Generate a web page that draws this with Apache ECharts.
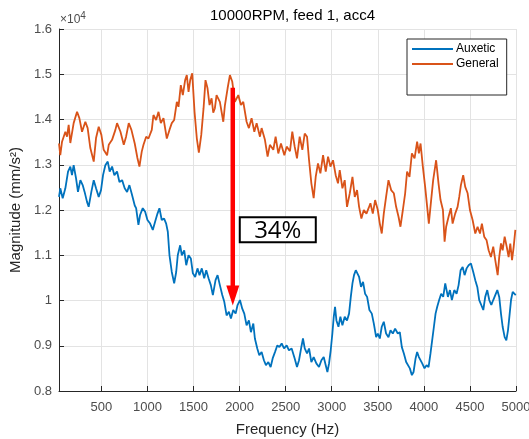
<!DOCTYPE html>
<html>
<head>
<meta charset="utf-8">
<title>10000RPM, feed 1, acc4</title>
<script src="https://cdn.jsdelivr.net/npm/echarts@6/dist/echarts.min.js"></script>
<style>
  html, body { margin: 0; padding: 0; background: #fff; }
  #chart { width: 529px; height: 439px; }
</style>
</head>
<body>
<div id="chart"></div>
<script>
// values are in units of 10^4 mm/s^2
const auxFreq = [40, 54, 80, 109, 138, 163, 181, 199, 225, 246, 272, 297, 318, 344, 362, 391, 417, 442, 471, 496,
  518, 543, 569, 590, 616, 641, 670, 696, 725, 753, 779, 804, 833, 862, 877, 902, 920, 949, 975, 1000,
  1029, 1058, 1083, 1109, 1130, 1155, 1181, 1203, 1221, 1239, 1264, 1290, 1312, 1329, 1355, 1373, 1399, 1421, 1446, 1471,
  1493, 1518, 1543, 1565, 1590, 1616, 1638, 1663, 1688, 1710, 1739, 1761, 1786, 1812, 1834, 1859, 1884, 1906, 1931, 1957,
  1978, 2004, 2029, 2051, 2076, 2101, 2123, 2149, 2166, 2192, 2214, 2239, 2264, 2286, 2312, 2337, 2359, 2384, 2410, 2432,
  2457, 2482, 2511, 2536, 2565, 2598, 2623, 2645, 2670, 2688, 2707, 2732, 2754, 2779, 2804, 2833, 2862, 2888, 2913, 2935,
  2953, 2971, 2989, 3007, 3022, 3036, 3051, 3073, 3094, 3116, 3141, 3166, 3188, 3207, 3225, 3242, 3261, 3279, 3297, 3318,
  3340, 3362, 3384, 3409, 3435, 3457, 3482, 3500, 3522, 3543, 3565, 3590, 3616, 3638, 3663, 3688, 3717, 3739, 3761, 3783,
  3808, 3826, 3848, 3870, 3888, 3910, 3927, 3946, 3964, 3982, 4007, 4029, 4051, 4072, 4090, 4109, 4127, 4145, 4166, 4188,
  4210, 4232, 4261, 4283, 4304, 4330, 4355, 4377, 4399, 4421, 4442, 4464, 4486, 4511, 4536, 4558, 4580, 4601, 4623, 4645,
  4666, 4688, 4710, 4732, 4753, 4775, 4797, 4818, 4837, 4855, 4877, 4895, 4913, 4928, 4946, 4964, 4982, 4997];
const auxMag = [1.229, 1.248, 1.226, 1.248, 1.285, 1.296, 1.277, 1.299, 1.270, 1.240, 1.266, 1.255, 1.240, 1.218, 1.207, 1.240, 1.266, 1.248, 1.229, 1.244,
  1.277, 1.299, 1.307, 1.285, 1.296, 1.277, 1.285, 1.262, 1.266, 1.248, 1.240, 1.255, 1.233, 1.210, 1.204, 1.167, 1.189, 1.204, 1.196, 1.178,
  1.170, 1.156, 1.174, 1.192, 1.204, 1.178, 1.181, 1.170, 1.152, 1.100, 1.063, 1.038, 1.063, 1.100, 1.122, 1.100, 1.111, 1.078, 1.100, 1.093,
  1.060, 1.052, 1.071, 1.056, 1.071, 1.049, 1.067, 1.049, 1.034, 1.012, 1.045, 1.056, 1.034, 1.012, 0.997, 0.967, 0.975, 0.960, 0.979, 0.971,
  0.990, 1.001, 0.982, 0.971, 0.945, 0.956, 0.930, 0.949, 0.916, 0.894, 0.879, 0.886, 0.868, 0.857, 0.864, 0.853, 0.872, 0.886, 0.901, 0.897,
  0.905, 0.894, 0.901, 0.890, 0.894, 0.872, 0.853, 0.868, 0.897, 0.916, 0.894, 0.883, 0.894, 0.864, 0.875, 0.861, 0.853, 0.868, 0.875, 0.857,
  0.842, 0.861, 0.890, 0.927, 0.964, 0.986, 0.956, 0.942, 0.964, 0.945, 0.964, 0.956, 0.971, 1.008, 1.038, 1.056, 1.067, 1.071, 1.052, 1.030,
  1.041, 1.015, 1.008, 0.979, 0.971, 0.949, 0.919, 0.927, 0.916, 0.942, 0.953, 0.927, 0.919, 0.934, 0.927, 0.938, 0.927, 0.930, 0.897, 0.883,
  0.864, 0.868, 0.850, 0.835, 0.842, 0.872, 0.886, 0.875, 0.879, 0.861, 0.850, 0.857, 0.853, 0.883, 0.912, 0.942, 0.971, 0.986, 1.001, 1.015,
  1.008, 1.038, 1.008, 1.023, 1.001, 1.023, 1.015, 1.034, 1.067, 1.074, 1.056, 1.071, 1.078, 1.082, 1.063, 1.045, 1.030, 1.001, 0.990, 0.979,
  1.008, 1.023, 1.001, 0.990, 1.001, 1.012, 1.023, 1.008, 0.971, 0.942, 0.919, 0.912, 0.934, 0.964, 1.001, 1.019, 1.023, 1.012];

const genFreq = [40, 54, 73, 109, 127, 145, 163, 199, 236, 261, 290, 326, 351, 380, 417, 442, 471, 500, 525, 562,
  580, 616, 652, 670, 707, 743, 768, 797, 826, 862, 891, 913, 938, 957, 986, 1011, 1047, 1065, 1094, 1120,
  1145, 1174, 1210, 1239, 1264, 1290, 1319, 1337, 1362, 1384, 1409, 1427, 1446, 1464, 1486, 1511, 1536, 1558, 1584, 1609,
  1630, 1652, 1674, 1696, 1714, 1732, 1750, 1786, 1823, 1841, 1870, 1895, 1920, 1949, 1986, 2014, 2040, 2076, 2101, 2130,
  2160, 2185, 2221, 2239, 2275, 2304, 2329, 2366, 2391, 2420, 2449, 2486, 2511, 2547, 2572, 2598, 2623, 2652, 2681, 2707,
  2732, 2754, 2779, 2804, 2826, 2851, 2877, 2906, 2935, 2960, 2986, 3014, 3043, 3068, 3087, 3116, 3141, 3166, 3196, 3225,
  3250, 3275, 3297, 3322, 3348, 3377, 3400, 3420, 3446, 3471, 3500, 3522, 3543, 3565, 3590, 3616, 3645, 3674, 3699, 3725,
  3746, 3772, 3797, 3818, 3844, 3870, 3899, 3927, 3946, 3964, 3989, 4014, 4036, 4054, 4079, 4101, 4133, 4159, 4181, 4207,
  4225, 4242, 4268, 4293, 4312, 4340, 4366, 4384, 4402, 4427, 4449, 4475, 4500, 4529, 4558, 4583, 4609, 4630, 4655, 4681,
  4703, 4728, 4753, 4775, 4801, 4818, 4837, 4855, 4877, 4899, 4920, 4938, 4957, 4975, 4993];
const genMag = [1.347, 1.321, 1.351, 1.373, 1.362, 1.388, 1.348, 1.392, 1.417, 1.403, 1.373, 1.395, 1.381, 1.337, 1.307, 1.359, 1.384, 1.366, 1.333, 1.321,
  1.344, 1.355, 1.377, 1.392, 1.373, 1.344, 1.362, 1.392, 1.377, 1.347, 1.315, 1.296, 1.329, 1.344, 1.362, 1.358, 1.377, 1.410, 1.399, 1.417,
  1.392, 1.403, 1.358, 1.377, 1.392, 1.399, 1.439, 1.428, 1.476, 1.454, 1.487, 1.498, 1.461, 1.487, 1.502, 1.417, 1.358, 1.327, 1.366, 1.425,
  1.487, 1.469, 1.432, 1.447, 1.415, 1.425, 1.454, 1.439, 1.395, 1.432, 1.469, 1.498, 1.484, 1.439, 1.454, 1.432, 1.439, 1.395, 1.381, 1.403,
  1.373, 1.392, 1.362, 1.381, 1.355, 1.318, 1.344, 1.333, 1.362, 1.325, 1.347, 1.321, 1.340, 1.330, 1.373, 1.340, 1.314, 1.362, 1.333, 1.369,
  1.362, 1.310, 1.259, 1.226, 1.273, 1.303, 1.281, 1.321, 1.285, 1.318, 1.296, 1.310, 1.277, 1.259, 1.288, 1.248, 1.266, 1.207, 1.237, 1.273,
  1.229, 1.244, 1.207, 1.181, 1.200, 1.192, 1.204, 1.215, 1.192, 1.222, 1.200, 1.170, 1.148, 1.192, 1.229, 1.266, 1.244, 1.237, 1.207, 1.185,
  1.163, 1.200, 1.237, 1.285, 1.273, 1.325, 1.314, 1.351, 1.325, 1.347, 1.296, 1.251, 1.207, 1.170, 1.222, 1.266, 1.310, 1.259, 1.222, 1.200,
  1.130, 1.163, 1.185, 1.204, 1.170, 1.192, 1.207, 1.229, 1.255, 1.277, 1.251, 1.237, 1.200, 1.178, 1.148, 1.163, 1.148, 1.170, 1.141, 1.133,
  1.111, 1.096, 1.119, 1.089, 1.056, 1.096, 1.126, 1.111, 1.141, 1.119, 1.096, 1.126, 1.089, 1.119, 1.156];

const xTicks = [500, 1000, 1500, 2000, 2500, 3000, 3500, 4000, 4500, 5000];

// annotation: arrow from General peak down to Auxetic, and the label box
const arrowFreq = 1926;
const arrowTop = 1.470;
const arrowTip = 0.989;
const boxCorner = [2002, 1.184, 2827, 1.129];
const boxText = '34%';

const font = '"Liberation Sans", Arial, sans-serif';
const axisColor = '#262626';
const tickColor = '#4d4d4d';
const gridColor = '#e3e3e3';

function zip(xs, ys) {
  return xs.map((x, i) => [x, ys[i]]);
}

const chart = echarts.init(document.getElementById('chart'), null, { renderer: 'canvas' });

const option = {
  animation: false,
  textStyle: { fontFamily: font },
  title: {
    text: '10000RPM, feed 1, acc4',
    left: 287.5,
    textAlign: 'center',
    top: 3,
    textStyle: { fontFamily: font, fontSize: 15, fontWeight: 'normal', color: '#000' }
  },
  legend: {
    orient: 'vertical',
    left: 407,
    top: 39,
    padding: [4, 8, 25, 5],
    itemGap: 3,
    itemWidth: 41,
    itemHeight: 2,
    icon: 'rect',
    borderColor: axisColor,
    borderWidth: 1,
    backgroundColor: '#fff',
    borderRadius: 0,
    textStyle: { fontFamily: font, fontSize: 12, color: '#000', padding: [0, 0, 0, -2] },
    data: ['Auxetic', 'General']
  },
  grid: {
    left: 59,
    right: 13,
    top: 29,
    bottom: 48,
    containLabel: false,
    outerBoundsMode: 'none'
  },
  xAxis: {
    type: 'value',
    min: 40,
    max: 5000,
    name: 'Frequency (Hz)',
    nameLocation: 'middle',
    nameGap: 31,
    nameTextStyle: { fontFamily: font, fontSize: 15, color: axisColor },
    axisLine: { show: true, lineStyle: { color: axisColor, width: 1 } },
    axisTick: { show: true, inside: true, length: 5, customValues: xTicks, lineStyle: { color: axisColor } },
    axisLabel: {
      customValues: xTicks,
      margin: 10,
      fontFamily: font,
      fontSize: 13,
      color: tickColor,
      formatter: (v) => String(v)
    },
    splitLine: { show: true, lineStyle: { color: gridColor, width: 1 } }
  },
  yAxis: {
    type: 'value',
    min: 0.8,
    max: 1.6,
    interval: 0.1,
    name: 'Magnitude (mm/s²)',
    nameLocation: 'middle',
    nameGap: 26,
    nameTextStyle: { fontFamily: font, fontSize: 15, color: axisColor },
    axisLine: { show: true, lineStyle: { color: axisColor, width: 1 } },
    axisTick: { show: true, inside: true, length: 5, lineStyle: { color: axisColor } },
    axisLabel: {
      margin: 7,
      fontFamily: font,
      fontSize: 13,
      color: tickColor,
      formatter: (v) => String(Math.round(v * 10) / 10)
    },
    splitLine: { show: true, lineStyle: { color: gridColor, width: 1 } }
  },
  series: [
    {
      name: 'Auxetic',
      type: 'line',
      data: zip(auxFreq, auxMag),
      symbol: 'none',
      lineStyle: { color: '#0072BD', width: 1.8 },
      itemStyle: { color: '#0072BD' }
    },
    {
      name: 'General',
      type: 'line',
      data: zip(genFreq, genMag),
      symbol: 'none',
      lineStyle: { color: '#D95319', width: 1.8 },
      itemStyle: { color: '#D95319' }
    }
  ]
};

chart.setOption(option);

// draw the annotation in pixel space using the axes
const arrowStart = chart.convertToPixel({ gridIndex: 0 }, [arrowFreq, arrowTop]);
const arrowEnd = chart.convertToPixel({ gridIndex: 0 }, [arrowFreq, arrowTip]);
const b1 = chart.convertToPixel({ gridIndex: 0 }, [boxCorner[0], boxCorner[1]]);
const b2 = chart.convertToPixel({ gridIndex: 0 }, [boxCorner[2], boxCorner[3]]);
const headH = 20;
const headW = 13;

chart.setOption({
  graphic: [
    {
      type: 'text',
      left: 60,
      top: 11,
      style: {
        text: '×10{s|4}',
        fontFamily: font,
        fontSize: 12,
        fill: tickColor,
        rich: { s: { fontSize: 10, verticalAlign: 'top', padding: [0, 0, 7, 0], fill: tickColor } }
      },
      z: 10
    },
    {
      type: 'line',
      shape: { x1: arrowStart[0], y1: arrowStart[1], x2: arrowEnd[0], y2: arrowEnd[1] - headH + 1 },
      style: { stroke: '#ff0000', lineWidth: 4.5 },
      z: 20
    },
    {
      type: 'polygon',
      shape: { points: [[arrowEnd[0] - headW / 2, arrowEnd[1] - headH], [arrowEnd[0] + headW / 2, arrowEnd[1] - headH], [arrowEnd[0], arrowEnd[1]]] },
      style: { fill: '#ff0000' },
      z: 20
    },
    {
      type: 'rect',
      shape: { x: b1[0], y: b1[1], width: b2[0] - b1[0], height: b2[1] - b1[1] },
      style: { fill: '#fff', stroke: '#000', lineWidth: 2 },
      z: 20
    },
    {
      type: 'text',
      x: (b1[0] + b2[0]) / 2,
      y: (b1[1] + b2[1]) / 2 + 1,
      style: {
        text: boxText,
        fontFamily: '"Open Sans", "Liberation Sans", sans-serif',
        fontSize: 24,
        fill: '#000',
        align: 'center',
        verticalAlign: 'middle'
      },
      z: 21
    }
  ]
});
</script>
</body>
</html>
